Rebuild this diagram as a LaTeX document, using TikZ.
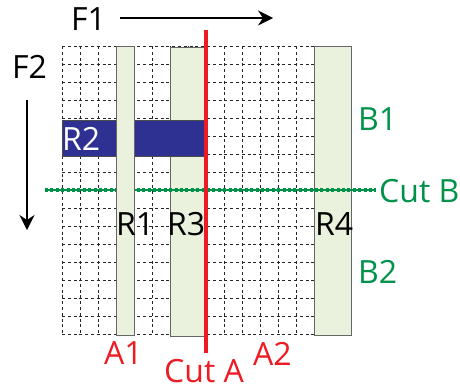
\documentclass[tikz,border=0pt]{standalone}
\usepackage{fontspec}
\setmainfont{Open Sans}
\usetikzlibrary{arrows.meta}
\definecolor{cutred}{HTML}{ED1C24}
\definecolor{cutgreen}{HTML}{00924A}
\definecolor{rblue}{HTML}{2E3192}
\definecolor{rfill}{HTML}{EAF1DD}
\tikzset{
  lbl/.style={anchor=base west,inner sep=0pt,text depth=0pt,font=\fontsize{32}{32}\selectfont},
  gridline/.style={black!85,line width=0.6pt,dash pattern=on 3pt off 2.8pt},
  strip/.style={fill=rfill,draw=black!60,line width=0.9pt},
  farrow/.style={line width=1.4pt,-{Stealth[length=15pt,width=15pt,inset=5pt]}},
}
\begin{document}
\begin{tikzpicture}[x=1pt,y=-1pt]
\useasboundingbox (0,0) rectangle (460,388);
% grid
\foreach \i in {0,...,16}{
  \draw[gridline] (62+18*\i,46) -- (62+18*\i,334);
  \draw[gridline] (62,46+18*\i) -- (350,46+18*\i);
}
% strips
\draw[strip] (170,47) rectangle (205,336);
\draw[strip] (314,46) rectangle (351,335);
% R2
\fill[rblue] (62,120) rectangle (204,156);
\draw[black!70,line width=0.6pt] (62,120) rectangle (204,156);
% cut B
\coordinate (cbL) at (45,190);
\coordinate (cbR) at (376,190);
\draw[cutgreen,line width=1.3pt] (cbL) -- (cbR);
\draw[cutgreen,line width=3.2pt,dash pattern=on 3pt off 2.4pt] (cbL) -- (cbR);
% R1
\draw[strip] (116,46) rectangle (134,335);
% cut A
\coordinate (caT) at (206,30);
\coordinate (caB) at (206,353);
\draw[cutred,line width=3.2pt] (caT) -- (caB);
% arrows
\coordinate (f1a) at (120,18);
\coordinate (f1b) at (273,18);
\draw[farrow] (f1a) -- (f1b);
\coordinate (f2a) at (27,100);
\coordinate (f2b) at (27,230);
\draw[farrow] (f2a) -- (f2b);
% labels
\node[lbl] (F1) at (71,30) {F1};
\node[lbl] (F2) at (12,78) {F2};
\node[lbl,white] (R2) at (62,150) {R2};
\node[lbl] (R1) at (116,235) {R1};
\node[lbl] (R3) at (167,235) {R3};
\node[lbl] (R4) at (315,235) {R4};
\node[lbl,cutgreen] (B1) at (358,130) {B1};
\node[lbl,cutgreen] (CutB) at (379,202) {Cut B};
\node[lbl,cutgreen] (B2) at (358,283) {B2};
\node[lbl,cutred] (A1) at (104,364) {A1};
\node[lbl,cutred] (CutA) at (164,382) {Cut A};
\node[lbl,cutred] (A2) at (253,365) {A2};
\end{tikzpicture}
\end{document}
